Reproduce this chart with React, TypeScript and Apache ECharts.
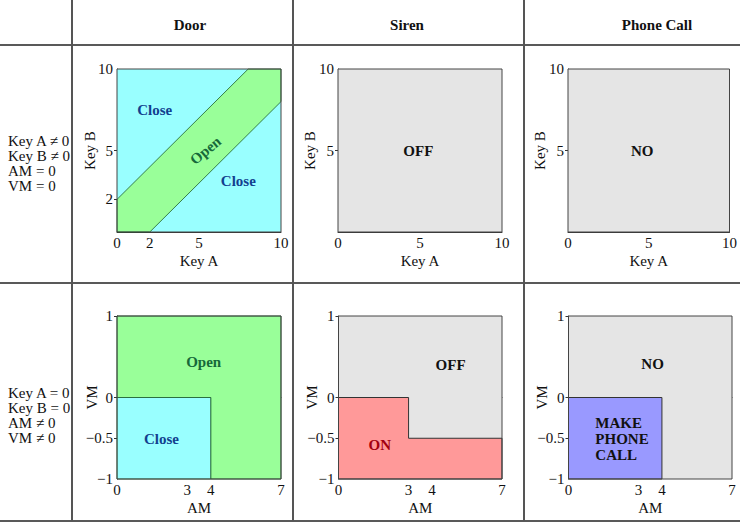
import React, { useEffect, useRef } from 'react';
import * as echarts from 'echarts';

const FONT = '"Liberation Serif", "Times New Roman", serif';

// ---- table texts ----
const headers = ['Door', 'Siren', 'Phone Call'];
const rowConditionsTop = ['Key A \u2260 0', 'Key B \u2260 0', 'AM = 0', 'VM = 0'];
const rowConditionsBottom = ['Key A = 0', 'Key B = 0', 'AM \u2260 0', 'VM \u2260 0'];

// ---- axes ----
const keyRange = [0, 10];
const amRange = [0, 7];
const vmRange = [-1, 1];
const keyATicksDoor = [0, 2, 5, 10];
const keyATicks = [0, 5, 10];
const keyBTicksDoor = [2, 5, 10];
const keyBTicks = [5, 10];
const amTicks = [0, 3, 4, 7];
const vmTicks = [-1, -0.5, 0, 1];

// ---- regions (data coordinates) ----
const doorKeysClose = [[0, 0], [10, 0], [10, 10], [0, 10]];
const doorKeysOpen = [[0, 0], [2, 0], [10, 8], [10, 10], [8, 10], [0, 2]];
const sirenKeysOff = [[0, 0], [10, 0], [10, 10], [0, 10]];
const phoneKeysNo = [[0, 0], [10, 0], [10, 10], [0, 10]];
const doorMotionOpen = [[0, 0], [4, 0], [4, -1], [7, -1], [7, 1], [0, 1]];
const doorMotionClose = [[0, -1], [4, -1], [4, 0], [0, 0]];
const sirenMotionOff = [[0, -1], [7, -1], [7, 1], [0, 1]];
const sirenMotionOn = [[0, -1], [7, -1], [7, -0.5], [3, -0.5], [3, 0], [0, 0]];
const phoneMotionNo = [[0, -1], [7, -1], [7, 1], [0, 1]];
const phoneMotionCall = [[0, -1], [4, -1], [4, 0], [0, 0]];

// ---- region labels: [x, y, text] ----
const doorKeysLabels = [[2.3, 7.5, 'Close'], [5.4, 5.0, 'Open'], [7.4, 3.1, 'Close']];
const sirenKeysLabels = [[4.9, 5.0, 'OFF']];
const phoneKeysLabels = [[4.6, 5.0, 'NO']];
const doorMotionLabels = [[3.7, 0.44, 'Open'], [1.9, -0.51, 'Close']];
const sirenMotionLabels = [[4.8, 0.4, 'OFF'], [1.77, -0.58, 'ON']];
const phoneMotionLabels = [[3.6, 0.41, 'NO'], [1.15, -0.51, 'MAKE\nPHONE\nCALL']];

const C = {
  cyan: '#99ffff',
  green: '#99ff99',
  gray: '#e5e5e5',
  pink: '#ff9999',
  blue: '#9999ff',
  closeTxt: '#123f8f',
  openTxt: '#16693a',
  onTxt: '#a3000f',
  black: '#111111',
};

const grids = [
  { left: 117, top: 69, width: 164, height: 163 },
  { left: 338, top: 69, width: 164, height: 163 },
  { left: 568, top: 69, width: 164, height: 163 },
  { left: 117, top: 316, width: 164, height: 163 },
  { left: 338.5, top: 316, width: 163.5, height: 163 },
  { left: 568.5, top: 316, width: 163.5, height: 163 },
];

const fmt = (v: number) => String(v).replace('-', '\u2212');

function poly(gi: number, pts: number[][], fill: string, stroke: string, lw = 1) {
  return {
    type: 'custom',
    xAxisIndex: gi,
    yAxisIndex: gi,
    silent: true,
    clip: false,
    data: [0],
    renderItem: (_p: any, api: any) => ({
      type: 'polygon',
      shape: { points: pts.map((v) => api.coord(v)) },
      style: { fill, stroke, lineWidth: lw },
    }),
  };
}

function labels(gi: number, items: any[], colors: string[], rot: number[] = [], align: string[] = []) {
  return {
    type: 'custom',
    xAxisIndex: gi,
    yAxisIndex: gi,
    silent: true,
    clip: false,
    data: items.map((_, i) => i),
    renderItem: (p: any, api: any) => {
      const it = items[p.dataIndex];
      const pt = api.coord([it[0], it[1]]);
      return {
        type: 'text',
        x: pt[0],
        y: pt[1],
        rotation: ((rot[p.dataIndex] || 0) * Math.PI) / 180,
        style: {
          text: it[2],
          fill: colors[p.dataIndex],
          font: `bold 15px ${FONT}`,
          align: align[p.dataIndex] || 'center',
          verticalAlign: 'middle',
          lineHeight: 16,
        },
      };
    },
  };
}

function frame(gi: number, xr: number[], yr: number[]) {
  return poly(gi, [[xr[0], yr[0]], [xr[1], yr[0]], [xr[1], yr[1]], [xr[0], yr[1]]], 'none', '#444', 1);
}

function xAx(gi: number, range: number[], labelVals: number[], tickVals: number[], name: string) {
  return {
    type: 'value',
    gridIndex: gi,
    min: range[0],
    max: range[1],
    splitLine: { show: false },
    axisLine: { show: true, lineStyle: { color: '#333' } },
    axisTick: { show: true, inside: true, length: 3, customValues: tickVals, lineStyle: { color: '#333' } },
    axisLabel: { customValues: labelVals, formatter: fmt, color: C.black, fontFamily: FONT, fontSize: 15, margin: 3 },
    name,
    nameLocation: 'middle',
    nameGap: 21,
    nameMoveOverlap: false,
    nameTextStyle: { color: C.black, fontFamily: FONT, fontSize: 15 },
  };
}

function yAx(gi: number, range: number[], labelVals: number[], tickVals: number[], name: string, gap: number) {
  return {
    type: 'value',
    gridIndex: gi,
    min: range[0],
    max: range[1],
    splitLine: { show: false },
    axisLine: { show: true, lineStyle: { color: '#333' } },
    axisTick: { show: true, inside: false, length: 3, customValues: tickVals, lineStyle: { color: '#333' } },
    axisLabel: { customValues: labelVals, formatter: fmt, color: C.black, fontFamily: FONT, fontSize: 15, margin: 4 },
    name,
    nameLocation: 'middle',
    nameGap: gap,
    nameMoveOverlap: false,
    nameTextStyle: { color: C.black, fontFamily: FONT, fontSize: 15 },
  };
}

export default function App() {
  const ref = useRef<HTMLDivElement>(null);
  useEffect(() => {
    if (!ref.current) return;
    const chart = echarts.init(ref.current, undefined, { renderer: 'svg' });

    const lineStyleH = { stroke: '#222', lineWidth: 1.5 };
    const lineStyleV = { stroke: '#555', lineWidth: 2 };

    const graphic: any[] = [
      { type: 'line', shape: { x1: 0, y1: 45, x2: 740, y2: 45 }, style: lineStyleH },
      { type: 'line', shape: { x1: 0, y1: 283, x2: 740, y2: 283 }, style: lineStyleH },
      { type: 'line', shape: { x1: 0, y1: 521, x2: 740, y2: 521 }, style: lineStyleH },
      { type: 'line', shape: { x1: 72, y1: 0, x2: 72, y2: 521 }, style: lineStyleV },
      { type: 'line', shape: { x1: 293, y1: 0, x2: 293, y2: 521 }, style: lineStyleV },
      { type: 'line', shape: { x1: 524, y1: 0, x2: 524, y2: 521 }, style: lineStyleV },
    ];
    const headerX = [190, 407, 657];
    headers.forEach((h, i) =>
      graphic.push({
        type: 'text',
        x: headerX[i],
        y: 25,
        style: { text: h, font: `bold 15px ${FONT}`, fill: C.black, align: 'center', verticalAlign: 'middle' },
      })
    );
    graphic.push({
      type: 'text',
      x: 8,
      y: 133,
      style: { text: rowConditionsTop.join('\n'), font: `15px ${FONT}`, fill: C.black, lineHeight: 15, align: 'left', verticalAlign: 'top' },
    });
    graphic.push({
      type: 'text',
      x: 8,
      y: 385,
      style: { text: rowConditionsBottom.join('\n'), font: `15px ${FONT}`, fill: C.black, lineHeight: 15, align: 'left', verticalAlign: 'top' },
    });

    const option: any = {
      animation: false,
      backgroundColor: '#ffffff',
      grid: grids.map((g) => ({ ...g, containLabel: false })),
      xAxis: [
        xAx(0, keyRange, keyATicksDoor, [2, 5], 'Key A'),
        xAx(1, keyRange, keyATicks, [5], 'Key A'),
        xAx(2, keyRange, keyATicks, [5], 'Key A'),
        xAx(3, amRange, amTicks, [3, 4], 'AM'),
        xAx(4, amRange, amTicks, [3, 4], 'AM'),
        xAx(5, amRange, amTicks, [3, 4], 'AM'),
      ],
      yAxis: [
        yAx(0, keyRange, keyBTicksDoor, [2, 5], 'Key B', 20),
        yAx(1, keyRange, keyBTicks, [5], 'Key B', 21),
        yAx(2, keyRange, keyBTicks, [5], 'Key B', 21),
        yAx(3, vmRange, vmTicks, [-0.5, 0, 1], 'VM', 18),
        yAx(4, vmRange, vmTicks, [-0.5, 0, 1], 'VM', 19),
        yAx(5, vmRange, vmTicks, [-0.5, 0, 1], 'VM', 19),
      ],
      graphic,
      series: [
        poly(0, doorKeysClose, C.cyan, 'none'),
        poly(0, doorKeysOpen, C.green, '#1d5e2a', 0.8),
        frame(0, keyRange, keyRange),
        labels(0, doorKeysLabels, [C.closeTxt, C.openTxt, C.closeTxt], [0, 40, 0]),

        poly(1, sirenKeysOff, C.gray, 'none'),
        frame(1, keyRange, keyRange),
        labels(1, sirenKeysLabels, [C.black]),

        poly(2, phoneKeysNo, C.gray, 'none'),
        frame(2, keyRange, keyRange),
        labels(2, phoneKeysLabels, [C.black]),

        poly(3, doorMotionOpen, C.green, '#1d5e2a', 0.8),
        poly(3, doorMotionClose, C.cyan, '#1d5e2a', 0.8),
        frame(3, amRange, vmRange),
        labels(3, doorMotionLabels, [C.openTxt, C.closeTxt]),

        poly(4, sirenMotionOff, C.gray, 'none'),
        poly(4, sirenMotionOn, C.pink, '#333', 1),
        frame(4, amRange, vmRange),
        labels(4, sirenMotionLabels, [C.black, C.onTxt]),

        poly(5, phoneMotionNo, C.gray, 'none'),
        poly(5, phoneMotionCall, C.blue, '#333', 1),
        frame(5, amRange, vmRange),
        labels(5, phoneMotionLabels, [C.black, C.black], [0, 0], ['center', 'left']),
      ],
    };
    chart.setOption(option);
    return () => chart.dispose();
  }, []);

  return (
    <div
      ref={ref}
      style={{ position: 'absolute', left: 0, top: 0, width: 740, height: 524, background: '#fff' }}
    />
  );
}
